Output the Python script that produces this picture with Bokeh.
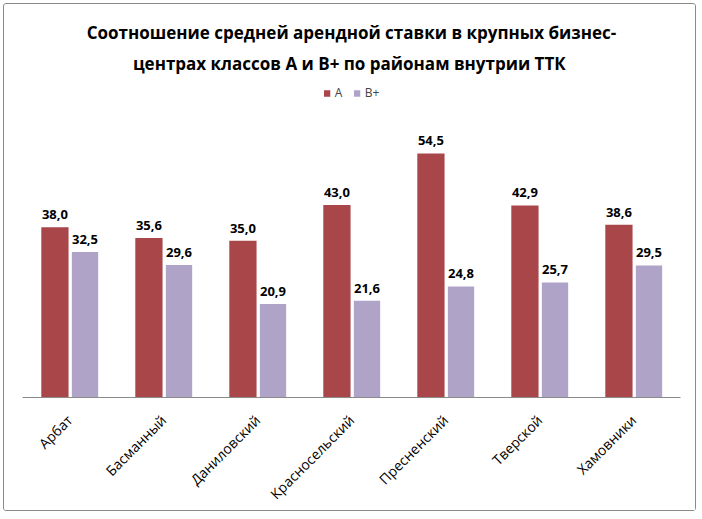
from math import pi
from bokeh.plotting import figure
from bokeh.models import ColumnDataSource, FactorRange, Range1d, Legend, LegendItem, Title
from bokeh.transform import dodge
from bokeh.core.properties import value
from bokeh.embed import file_html
from bokeh.resources import INLINE

districts = ["Арбат", "Басманный", "Даниловский", "Красносельский", "Пресненский", "Тверской", "Хамовники"]
class_a = [38.0, 35.6, 35.0, 43.0, 54.5, 42.9, 38.6]
class_bplus = [32.5, 29.6, 20.9, 21.6, 24.8, 25.7, 29.5]
series_names = ["А", "В+"]
title_lines = ["Соотношение средней арендной ставки в крупных бизнес-",
               "центрах классов  А и В+ по районам внутрии ТТК"]

def fmt(v):
    return f"{v:.1f}".replace(".", ",")

src = ColumnDataSource(dict(
    d=districts, a=class_a, b=class_bplus,
    la=[fmt(v) for v in class_a], lb=[fmt(v) for v in class_bplus],
))

FONT = "Open Sans"
W, H = 693, 508
p = figure(width=W, height=H, x_range=FactorRange(*districts, range_padding=0),
           y_range=Range1d(0, 70.8), output_backend="svg", toolbar_location=None,
           min_border_left=18, min_border_right=17, min_border_top=76, min_border_bottom=110)
p.styles = {"border": "1px solid #8a8a8a", "border-radius": "3px",
            "margin-left": "3px", "margin-top": "3px"}
p.outline_line_color = None
p.xgrid.visible = False
p.ygrid.visible = False
p.yaxis.visible = False

def style_title(t):
    t.align = "center"
    t.text_font = FONT
    t.text_font_style = "bold"
    t.text_font_size = "17px"
    t.text_color = "#000000"

p.title.text = title_lines[0]
style_title(p.title)
p.title.standoff = 0
t2 = Title(text=title_lines[1])
style_title(t2)
t2.standoff = 12
p.add_layout(t2, "above")

ra = p.vbar(x=dodge("d", -0.155, range=p.x_range), top="a", width=0.29, source=src,
            fill_color="#A9464A", line_color=None)
rb = p.vbar(x=dodge("d", 0.165, range=p.x_range), top="b", width=0.28, source=src,
            fill_color="#B0A3C8", line_color=None)

p.text(x=dodge("d", -0.155, range=p.x_range), y="a", text="la", source=src,
       text_align="center", text_baseline="bottom", y_offset=-8,
       text_font=value(FONT), text_font_style="bold", text_font_size="13px", text_color="#000000")
p.text(x=dodge("d", 0.165, range=p.x_range), y="b", text="lb", source=src,
       text_align="center", text_baseline="bottom", y_offset=-8,
       text_font=value(FONT), text_font_style="bold", text_font_size="13px", text_color="#000000")

xa = p.xaxis[0]
xa.major_label_orientation = pi / 4
xa.major_label_text_font = FONT
xa.major_label_text_font_size = "14px"
xa.major_label_text_color = "#000000"
xa.axis_line_color = "#8a8a8a"
xa.major_tick_line_color = None
xa.minor_tick_line_color = None
xa.major_label_standoff = 14

legend = Legend(items=[LegendItem(label=series_names[0], renderers=[ra]),
                       LegendItem(label=series_names[1], renderers=[rb])],
                location="top_center", orientation="horizontal",
                label_text_font=FONT, label_text_font_size="12px",
                glyph_width=8, glyph_height=8, spacing=8, label_standoff=4, label_width=10,
                border_line_color=None, background_fill_alpha=0, padding=0, margin=4)
p.add_layout(legend)

open("out.html", "w").write(file_html(p, INLINE))
